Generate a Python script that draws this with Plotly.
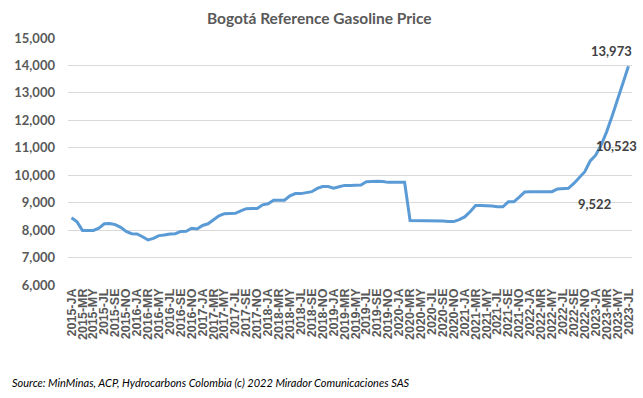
import plotly.graph_objects as go

month_codes = ["JA", "FE", "MR", "AB", "MY", "JN", "JL", "AG", "SE", "OC", "NO", "DI"]
years = list(range(2015, 2024))
categories = [f"{y}-{m}" for y in years for m in month_codes][:103]  # 2015-JA .. 2023-JL

prices = [
    8450, 8300, 7990, 7990, 7990, 8070, 8230, 8240, 8200, 8100, 7950, 7870, 7860,
    7760, 7640, 7700, 7800, 7820, 7860, 7870, 7950, 7960, 8070, 8040, 8170, 8230, 8380,
    8520, 8600, 8610, 8610, 8700, 8780, 8790, 8790, 8920, 8960, 9085, 9085, 9090, 9250,
    9330, 9330, 9360, 9400, 9520, 9590, 9590, 9530, 9580, 9630, 9630, 9630, 9640,
    9760, 9780, 9780, 9770, 9740, 9740, 9740, 9740, 8350, 8350, 8350, 8350, 8350, 8350,
    8330, 8310, 8310, 8380, 8480, 8670, 8900, 8900, 8900, 8880, 8850, 8850,
    9030, 9030, 9200, 9390, 9400, 9400, 9400, 9400, 9400, 9500, 9522, 9522, 9700, 9900,
    10130, 10523, 10730, 11100, 11580, 12150, 12750, 13350, 13973,
]

tick_labels = categories[::2]
y_ticks = list(range(6000, 15001, 1000))

labelled_idx = [91, 95, 102]

title_text = "Bogotá Reference Gasoline Price"
source_text = "Source: MinMinas, ACP, Hydrocarbons Colombia (c) 2022 Mirador Comunicaciones SAS"

fig = go.Figure()
fig.add_trace(go.Scatter(
    x=categories, y=prices, mode="lines",
    line=dict(color="#5b9bd5", width=3),
    hoverinfo="x+y",
))

label_font = dict(family="Lato, Calibri, sans-serif", size=13, color="#404040", weight="bold")
offsets = {91: ("left", 8, -16), 95: ("left", 4, 15), 102: ("right", 6, 15)}
for i in labelled_idx:
    anchor, xs, ys = offsets[i]
    fig.add_annotation(
        x=categories[i], y=prices[i], xref="x", yref="y",
        text=f"{prices[i]:,}", showarrow=False,
        xanchor=anchor, yanchor="middle", xshift=xs, yshift=ys,
        font=label_font,
    )

fig.add_annotation(
    x=(321 - 68) / 567, y=1 + (38 - 18) / 247, xref="paper", yref="paper",
    xanchor="center", yanchor="middle",
    text=f"<b>{title_text}</b>", showarrow=False,
    font=dict(family="Lato, Calibri, sans-serif", size=15.5, color="#595959"),
)
fig.add_annotation(
    x=(10 - 68) / 567, y=-(382 - 285) / 247, xref="paper", yref="paper",
    text=f"<i>{source_text}</i>",
    showarrow=False, xanchor="left", yanchor="middle",
    font=dict(family="Lato, Calibri, sans-serif", size=11, color="#000000"),
)

fig.update_layout(
    width=643, height=398,
    margin=dict(l=68, r=8, t=38, b=113),
    paper_bgcolor="white", plot_bgcolor="white",
    showlegend=False,
    xaxis=dict(
        type="category", range=[-0.65, 102.65],
        tickmode="array", tickvals=tick_labels, ticktext=tick_labels,
        tickangle=-90, showgrid=False, showline=False, ticks="",
        tickfont=dict(family="Liberation Sans, Arial, sans-serif", size=12.5, color="#595959", weight="bold"),
        fixedrange=True,
    ),
    yaxis=dict(
        range=[6000, 15000], tickvals=y_ticks, tickformat=",d",
        showgrid=True, gridcolor="#d9d9d9", gridwidth=1,
        zeroline=False, showline=False, ticks="",
        ticklabelstandoff=12,
        tickfont=dict(family="Lato, Calibri, sans-serif", size=13, color="#595959", weight="bold"),
        fixedrange=True,
    ),
)

fig.write_html(
    "out.html",
    config={"displayModeBar": False},
    post_script="document.body.style.margin='0';",
)
